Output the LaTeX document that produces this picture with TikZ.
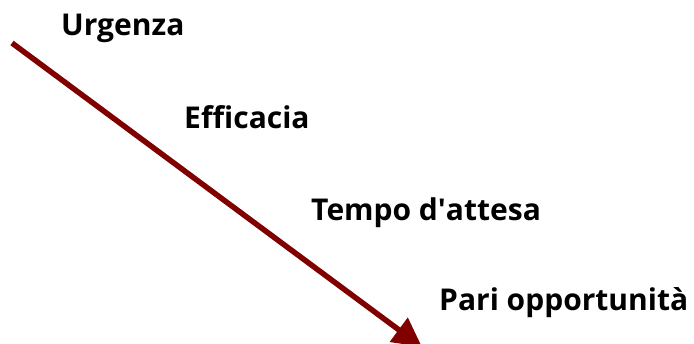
\documentclass[tikz,border=0pt]{standalone}
\usepackage{fontspec}
\setmainfont{Open Sans}[Ligatures={NoCommon}]
\usetikzlibrary{arrows.meta}
\definecolor{freccia}{RGB}{128,0,0}
\begin{document}
\begin{tikzpicture}[x=1pt, y=-1pt, line join=round, font=\fontsize{30}{36}\selectfont\bfseries,
		voce/.style={anchor=base west, inner sep=0pt}]
	
	\useasboundingbox (0,0) rectangle (694,343);
	
	\path 
		(12,43) coordinate (S)
		(422,347) coordinate (E)
	;
	
	\draw[freccia, line width=5.5pt, -{Triangle[length=29pt, width=29pt]}] (S) -- (E);
	
	\foreach \n/\x/\y/\t in {U/61/35/Urgenza, Ef/184/128/Efficacia, T/311/220/Tempo d\textquotesingle{}attesa, P/439/310/Pari opportunità}{
		\node[voce] (\n) at (\x,\y) {\t};
	}
\end{tikzpicture}
\end{document}
